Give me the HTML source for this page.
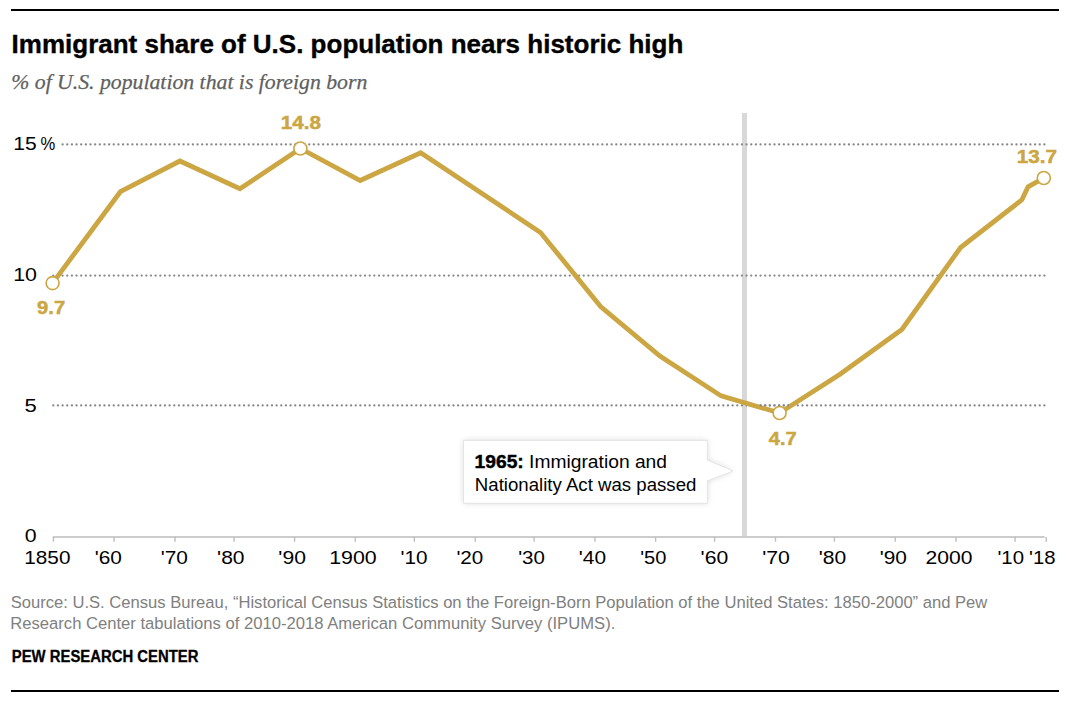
<!DOCTYPE html>
<html><head><meta charset="utf-8"><style>
html,body{margin:0;padding:0;background:#fff;width:1080px;height:701px;overflow:hidden}
svg{display:block}
</style></head><body>
<svg width="1080" height="701" viewBox="0 0 1080 701">
<rect x="0" y="0" width="1080" height="701" fill="#fff"/>
<rect x="11" y="9" width="1048" height="2" fill="#000"/>
<rect x="742" y="113" width="5" height="423" fill="#d8d8d8"/>
<path d="M52.8,536.9H1044.6" stroke="#bbb" stroke-width="1.5" fill="none"/>
<path d="M53.45,537V541.8M114.07,537V541.8M175.0,537V541.8M234.07,537V541.8M294.6,537V541.8M355.3,537V541.8M414.35,537V541.8M475.2,537V541.8M534.07,537V541.8M594.9,537V541.8M655.6,537V541.8M714.6,537V541.8M775.5,537V541.8M834.4,537V541.8M895.2,537V541.8M956,537V541.8M1015.1,537V541.8M1046.2,537V541.8" stroke="#bdbdbd" stroke-width="1.4" fill="none"/>
<g stroke="#878787" stroke-width="2.3" stroke-dasharray="0.01 4.643" stroke-linecap="round" fill="none">
<path d="M62.59,144.44H1045"/>
<path d="M53.28,275.6H1045"/>
<path d="M53.28,405.44H1045"/>
</g>
<path d="M52.6,283.1 L120.4,191.7 L179.9,161.0 L239.9,188.8 L300.4,148.5 L360.2,180.5 L420.7,152.8 L540.5,232.5 L600.6,306.5 L659.9,356 L721.1,395.9 L779.6,413 L840,374.3 L901.9,329.5 L960.6,247.5 L1021.9,199.8 L1028.1,186.8 L1043.8,178" stroke="#cba642" stroke-width="4.8" fill="none" stroke-linejoin="miter"/>


<g fill="#fff" stroke="#cba642" stroke-width="1.6">
<circle cx="52.6" cy="283.1" r="6.5"/>
<circle cx="300.4" cy="148.5" r="6.5"/>
<circle cx="779.6" cy="413" r="6.5"/>
<circle cx="1043.8" cy="178" r="6.5"/>
</g>
<path d="M53.28,405.44H1000" stroke="#878787" stroke-width="2.3" stroke-dasharray="0.01 4.643" stroke-linecap="round" fill="none" clip-path="url(#cl)"/>
<defs><clipPath id="cl"><rect x="759" y="395" width="30" height="20"/></clipPath><filter id="sh" x="-20%" y="-40%" width="140%" height="180%"><feGaussianBlur stdDeviation="3.4"/></filter></defs>
<path d="M463.5,440.4H707.3V460L733,471L707.3,481V503.3H463.5Z" fill="#000" opacity="0.15" filter="url(#sh)"/>
<path d="M463.5,440.4H707.3V460L733,471L707.3,481V503.3H463.5Z" fill="#fff" stroke="#e2e2e2" stroke-width="0.9"/>
<text id="title" style='font-family:"Liberation Sans",sans-serif' x="11.59" y="53.4" font-size="26" fill="#000" font-weight="bold" stroke="#000" stroke-width="0.35" textLength="671.69" lengthAdjust="spacingAndGlyphs">Immigrant share of U.S. population nears historic high</text>
<text id="sub" style='font-family:"Liberation Serif",serif' x="11.24" y="89.4" font-size="21.7" fill="#606060" font-style="italic" stroke="#606060" stroke-width="0.25" textLength="356.05" lengthAdjust="spacingAndGlyphs">% of U.S. population that is foreign born</text>
<text id="y15a" style='font-family:"Liberation Sans",sans-serif' x="13.36" y="150" font-size="18.5" fill="#000" textLength="23.41" lengthAdjust="spacingAndGlyphs">15</text>
<text id="y15b" style='font-family:"Liberation Sans",sans-serif' x="40.40" y="150" font-size="18.5" fill="#000" textLength="14.75" lengthAdjust="spacingAndGlyphs">%</text>
<text id="y10" style='font-family:"Liberation Sans",sans-serif' x="13.20" y="280.7" font-size="18.5" fill="#000" textLength="23.80" lengthAdjust="spacingAndGlyphs">10</text>
<text id="y5" style='font-family:"Liberation Sans",sans-serif' x="24.54" y="411.5" font-size="18.5" fill="#000" textLength="12.24" lengthAdjust="spacingAndGlyphs">5</text>
<text id="y0" style='font-family:"Liberation Sans",sans-serif' x="24.80" y="541.9" font-size="18.5" fill="#000" textLength="11.87" lengthAdjust="spacingAndGlyphs">0</text>
<text id="d148" style='font-family:"Liberation Sans",sans-serif' x="280.75" y="128.9" font-size="19.2" fill="#cba642" font-weight="bold" stroke="#cba642" stroke-width="0.5" textLength="40.17" lengthAdjust="spacingAndGlyphs">14.8</text>
<text id="d97" style='font-family:"Liberation Sans",sans-serif' x="37.12" y="314.4" font-size="19.2" fill="#cba642" font-weight="bold" stroke="#cba642" stroke-width="0.5" textLength="28.10" lengthAdjust="spacingAndGlyphs">9.7</text>
<text id="d47" style='font-family:"Liberation Sans",sans-serif' x="768.84" y="444.8" font-size="19.2" fill="#cba642" font-weight="bold" stroke="#cba642" stroke-width="0.5" textLength="27.87" lengthAdjust="spacingAndGlyphs">4.7</text>
<text id="d137" style='font-family:"Liberation Sans",sans-serif' x="1016.84" y="163.4" font-size="19.2" fill="#cba642" font-weight="bold" stroke="#cba642" stroke-width="0.5" textLength="40.24" lengthAdjust="spacingAndGlyphs">13.7</text>
<text id="x0" style='font-family:"Liberation Sans",sans-serif' x="24.29" y="563.7" font-size="18.5" fill="#000" textLength="46.16" lengthAdjust="spacingAndGlyphs">1850</text>
<text id="x1" style='font-family:"Liberation Sans",sans-serif' x="94.78" y="563.7" font-size="18.5" fill="#000" textLength="27.17" lengthAdjust="spacingAndGlyphs">&#39;60</text>
<text id="x2" style='font-family:"Liberation Sans",sans-serif' x="160.69" y="563.7" font-size="18.5" fill="#000" textLength="27.20" lengthAdjust="spacingAndGlyphs">&#39;70</text>
<text id="x3" style='font-family:"Liberation Sans",sans-serif' x="217.13" y="563.7" font-size="18.5" fill="#000" textLength="27.43" lengthAdjust="spacingAndGlyphs">&#39;80</text>
<text id="x4" style='font-family:"Liberation Sans",sans-serif' x="278.36" y="563.7" font-size="18.5" fill="#000" textLength="27.54" lengthAdjust="spacingAndGlyphs">&#39;90</text>
<text id="x5" style='font-family:"Liberation Sans",sans-serif' x="329.15" y="563.7" font-size="18.5" fill="#000" textLength="47.53" lengthAdjust="spacingAndGlyphs">1900</text>
<text id="x6" style='font-family:"Liberation Sans",sans-serif' x="400.45" y="563.7" font-size="18.5" fill="#000" textLength="26.99" lengthAdjust="spacingAndGlyphs">&#39;10</text>
<text id="x7" style='font-family:"Liberation Sans",sans-serif' x="456.44" y="563.7" font-size="18.5" fill="#000" textLength="26.85" lengthAdjust="spacingAndGlyphs">&#39;20</text>
<text id="x8" style='font-family:"Liberation Sans",sans-serif' x="518.15" y="563.7" font-size="18.5" fill="#000" textLength="26.69" lengthAdjust="spacingAndGlyphs">&#39;30</text>
<text id="x9" style='font-family:"Liberation Sans",sans-serif' x="578.85" y="563.7" font-size="18.5" fill="#000" textLength="27.27" lengthAdjust="spacingAndGlyphs">&#39;40</text>
<text id="x10" style='font-family:"Liberation Sans",sans-serif' x="640.21" y="563.7" font-size="18.5" fill="#000" textLength="26.14" lengthAdjust="spacingAndGlyphs">&#39;50</text>
<text id="x11" style='font-family:"Liberation Sans",sans-serif' x="700.60" y="563.7" font-size="18.5" fill="#000" textLength="27.62" lengthAdjust="spacingAndGlyphs">&#39;60</text>
<text id="x12" style='font-family:"Liberation Sans",sans-serif' x="762.16" y="563.7" font-size="18.5" fill="#000" textLength="27.68" lengthAdjust="spacingAndGlyphs">&#39;70</text>
<text id="x13" style='font-family:"Liberation Sans",sans-serif' x="818.68" y="563.7" font-size="18.5" fill="#000" textLength="27.47" lengthAdjust="spacingAndGlyphs">&#39;80</text>
<text id="x14" style='font-family:"Liberation Sans",sans-serif' x="879.78" y="563.7" font-size="18.5" fill="#000" textLength="27.17" lengthAdjust="spacingAndGlyphs">&#39;90</text>
<text id="x15" style='font-family:"Liberation Sans",sans-serif' x="925.59" y="563.7" font-size="18.5" fill="#000" textLength="46.97" lengthAdjust="spacingAndGlyphs">2000</text>
<text id="x16" style='font-family:"Liberation Sans",sans-serif' x="997.47" y="563.7" font-size="18.5" fill="#000" textLength="26.61" lengthAdjust="spacingAndGlyphs">&#39;10</text>
<text id="x17" style='font-family:"Liberation Sans",sans-serif' x="1029.10" y="563.7" font-size="18.5" fill="#000" textLength="26.48" lengthAdjust="spacingAndGlyphs">&#39;18</text>
<text id="ann1" style='font-family:"Liberation Sans",sans-serif' x="474.60" y="467.9" font-size="18.3" fill="#000" textLength="192.41" lengthAdjust="spacingAndGlyphs"><tspan font-weight="bold" stroke="#000" stroke-width="0.45">1965:</tspan> Immigration and</text>
<text id="ann2" style='font-family:"Liberation Sans",sans-serif' x="474.83" y="490.6" font-size="18.3" fill="#000" textLength="221.58" lengthAdjust="spacingAndGlyphs">Nationality Act was passed</text>
<text id="src1" style='font-family:"Liberation Sans",sans-serif' x="10.68" y="607.7" font-size="16.8" fill="#808080" textLength="976.64" lengthAdjust="spacingAndGlyphs">Source: U.S. Census Bureau, “Historical Census Statistics on the Foreign-Born Population of the United States: 1850-2000” and Pew</text>
<text id="src2" style='font-family:"Liberation Sans",sans-serif' x="10.25" y="629.4" font-size="16.8" fill="#808080" textLength="605.05" lengthAdjust="spacingAndGlyphs">Research Center tabulations of 2010-2018 American Community Survey (IPUMS).</text>
<text id="pew" style='font-family:"Liberation Sans",sans-serif' x="11.81" y="662.2" font-size="16" fill="#000" font-weight="bold" stroke="#000" stroke-width="0.3" textLength="186.63" lengthAdjust="spacingAndGlyphs">PEW RESEARCH CENTER</text>
<rect x="11" y="690" width="1048" height="2" fill="#000"/>
</svg>
</body></html>
